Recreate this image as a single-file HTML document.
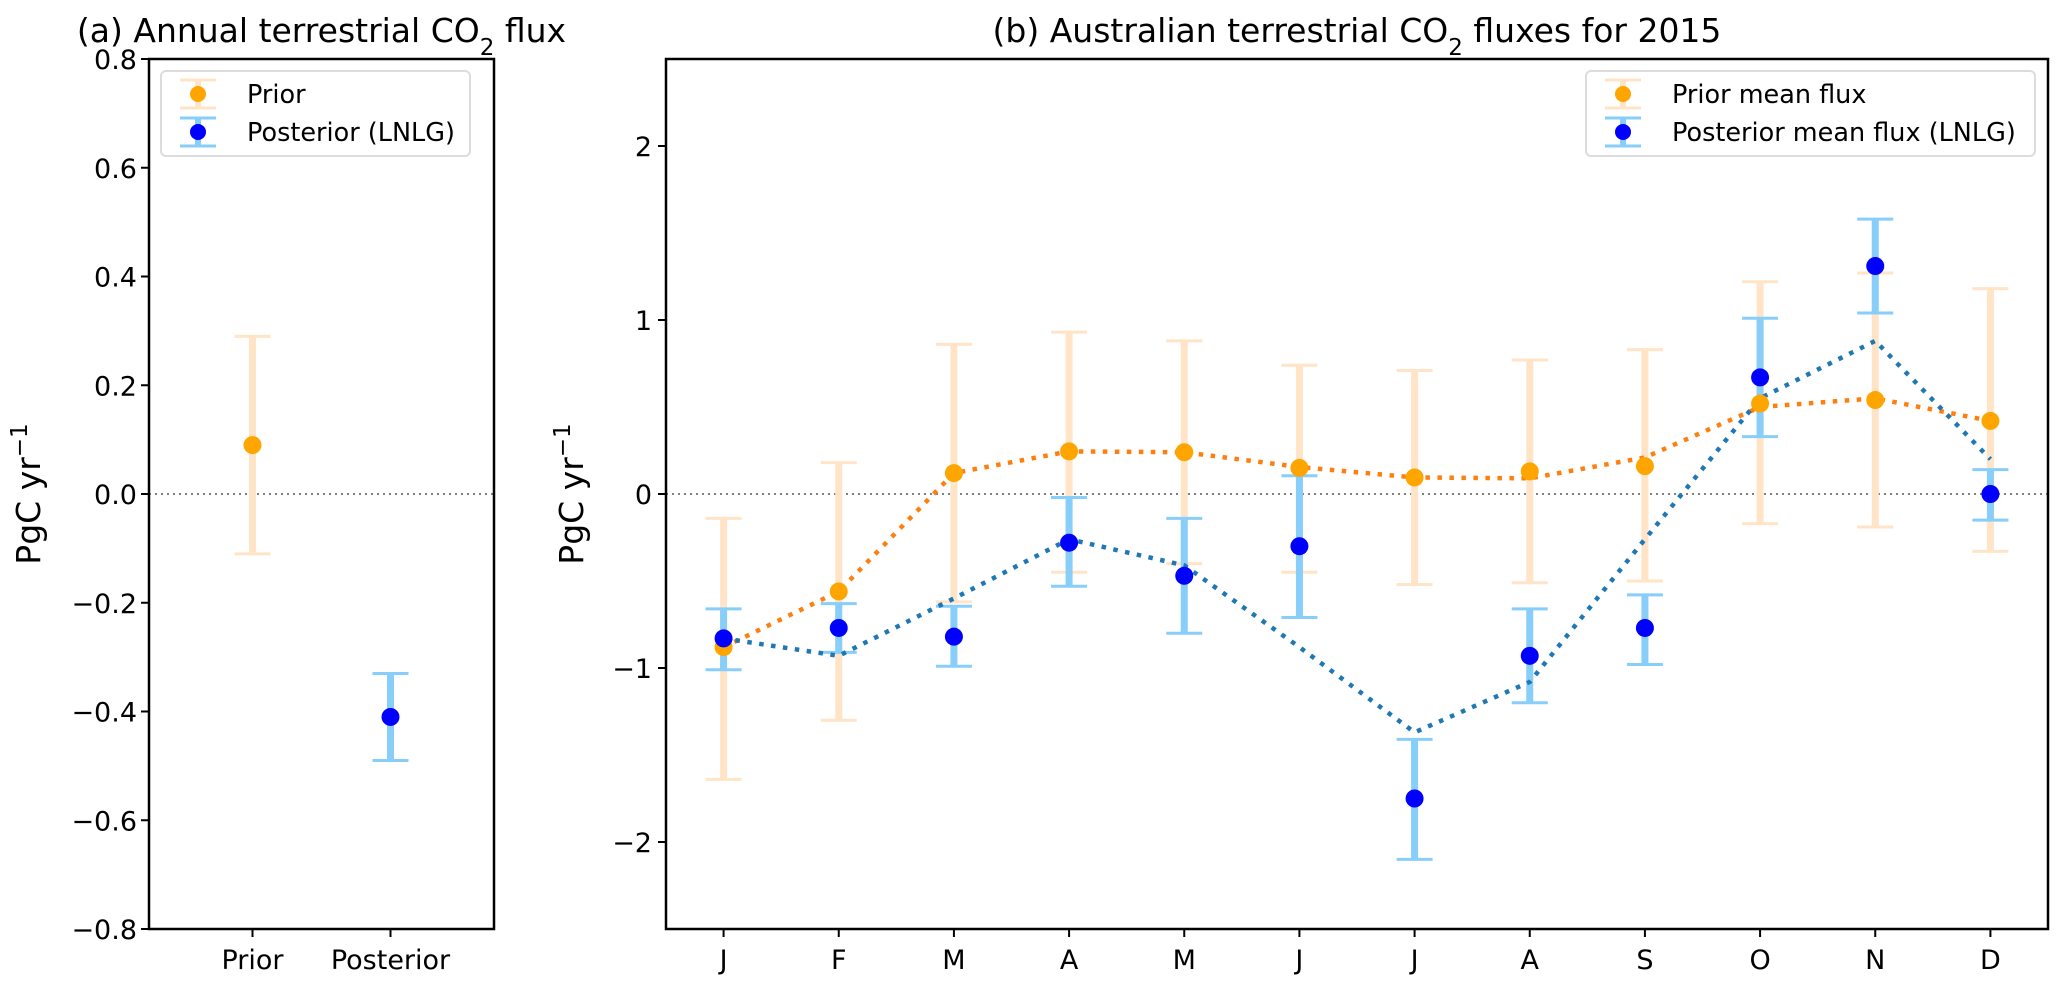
<!DOCTYPE html>
<html><head><meta charset="utf-8"><style>
html,body{margin:0;padding:0;background:#fff;}
svg{display:block;font-family:"DejaVu Sans","Liberation Sans",sans-serif;}
</style></head><body>
<svg id="chart" width="2067" height="990" viewBox="0 0 2067 990" xmlns="http://www.w3.org/2000/svg">
<rect width="2067" height="990" fill="#fff"/>
<g id="pa"></g>
<g id="pb"></g>
</svg>
<script>
// Panel (a) data
const aCategories = ["Prior", "Posterior"];
const aMeans = [0.09, -0.41];
const aUpper = [0.29, -0.33];
const aLower = [-0.11, -0.49];
const aTicks = [0.8, 0.6, 0.4, 0.2, 0.0, -0.2, -0.4, -0.6, -0.8];
const aTickLabels = ["0.8","0.6","0.4","0.2","0.0","\u22120.2","\u22120.4","\u22120.6","\u22120.8"];

// Panel (b) data
const months = ["J","F","M","A","M","J","J","A","S","O","N","D"];
const priorMean = [-0.88,-0.56,0.12,0.245,0.24,0.15,0.095,0.13,0.16,0.52,0.54,0.42];
const priorUpper = [-0.14,0.18,0.86,0.93,0.88,0.74,0.71,0.77,0.83,1.22,1.27,1.18];
const priorLower = [-1.64,-1.30,-0.62,-0.45,-0.40,-0.45,-0.52,-0.51,-0.50,-0.17,-0.19,-0.33];
const postMean = [-0.83,-0.77,-0.82,-0.28,-0.47,-0.30,-1.75,-0.93,-0.77,0.67,1.31,0.0];
const postUpper = [-0.66,-0.63,-0.645,-0.02,-0.14,0.105,-1.41,-0.66,-0.58,1.01,1.58,0.14];
const postLower = [-1.01,-0.91,-0.99,-0.53,-0.80,-0.71,-2.10,-1.20,-0.98,0.33,1.04,-0.15];
const priorLine = [-0.88,-0.56,0.12,0.245,0.24,0.155,0.095,0.09,0.21,0.50,0.55,0.42];
const postLine = [-0.83,-0.93,-0.60,-0.26,-0.41,-0.88,-1.37,-1.08,-0.26,0.55,0.88,0.20];
const bTicks = [2,1,0,-1,-2];
const bTickLabels = ["2","1","0","\u22121","\u22122"];

const NS = "http://www.w3.org/2000/svg";
function mk(parent, tag, attrs, text){
  const e = document.createElementNS(NS, tag);
  for (const k in attrs) e.setAttribute(k, attrs[k]);
  if (text !== undefined) e.textContent = text;
  parent.appendChild(e);
  return e;
}
const TOP = 59, BOT = 929;
const PRIOR_BAR = "#ffe4c7", POST_BAR = "#87cefa";
const FS = 27;

function errbar(g, x, yu, yl, color, name){
  const grp = mk(g, "g", {});
  
  
  mk(grp, "line", {x1:x, x2:x, y1:yu, y2:yl, stroke:color, "stroke-width":7});
  mk(grp, "line", {x1:x-18, x2:x+18, y1:yu, y2:yu, stroke:color, "stroke-width":3});
  mk(grp, "line", {x1:x-18, x2:x+18, y1:yl, y2:yl, stroke:color, "stroke-width":3});
}
function dot(g, x, y, color, name){
  const c = mk(g, "circle", {cx:x, cy:y, r:9, fill:color});
  
  
}
function legend(g, x0, y0, w, labels){
  const box = mk(g, "rect", {x:x0, y:y0, width:w, height:85, rx:5, fill:"#fff", stroke:"#d9d9d9", "stroke-width":2, opacity:0.9});
  
  
  const cols = [[PRIOR_BAR,"#ffa500"],[POST_BAR,"#0000ff"]];
  labels.forEach((lab, i) => {
    const cy = y0 + 23 + i*38, cx = x0 + 37;
    mk(g, "line", {x1:cx, x2:cx, y1:cy-14, y2:cy+14, stroke:cols[i][0], "stroke-width":6});
    mk(g, "line", {x1:cx-18, x2:cx+18, y1:cy-14, y2:cy-14, stroke:cols[i][0], "stroke-width":3});
    mk(g, "line", {x1:cx-18, x2:cx+18, y1:cy+14, y2:cy+14, stroke:cols[i][0], "stroke-width":3});
    mk(g, "circle", {cx:cx, cy:cy, r:8, fill:cols[i][1]});
    const t = mk(g, "text", {x:x0+86, y:cy+9, "font-size":25.5, fill:"#000"}, lab);
    
    
  });
}
function ylabel(g, x, y){
  const t = mk(g, "text", {x:0, y:0, "font-size":33, "text-anchor":"middle", transform:`translate(${x},${y}) rotate(-90)`});
  
  
  t.textContent = "PgC yr";
  mk(t, "tspan", {"baseline-shift":"super", "font-size":23}, "\u22121");
}
function title(g, x, text1, text2){
  const t = mk(g, "text", {x:x, y:42, "font-size":33, "text-anchor":"middle"});
  
  
  mk(t, "tspan", {}, text1);
  mk(t, "tspan", {"baseline-shift":"sub", "font-size":23}, "2");
  mk(t, "tspan", {dy:0}, text2);
}

// ---------- Panel A ----------
(function(){
  const g = document.getElementById("pa");
  const L = 149, R = 494;
  const x = i => L + (i + 0.75) / 2.5 * (R - L);
  const y = v => TOP + (0.8 - v) / 1.6 * (BOT - TOP);
  title(g, (L+R)/2, "(a) Annual terrestrial CO", " flux");
  const z = mk(g, "line", {x1:L, x2:R, y1:y(0), y2:y(0), stroke:"#808080", "stroke-width":2, "stroke-dasharray":"2,4"});
  
  
  const colsBar = [PRIOR_BAR, POST_BAR], colsDot = ["#ffa500", "#0000ff"];
  aCategories.forEach((c, i) => {
    errbar(g, x(i), y(aUpper[i]), y(aLower[i]), colsBar[i], "errorbar-" + c.toLowerCase());
    dot(g, x(i), y(aMeans[i]), colsDot[i], "point-" + c.toLowerCase());
    mk(g, "line", {x1:x(i), x2:x(i), y1:BOT, y2:BOT+8, stroke:"#000", "stroke-width":2});
    const t = mk(g, "text", {x:x(i), y:BOT+40, "font-size":FS, "text-anchor":"middle"}, c);
    
    
  });
  aTicks.forEach((v, i) => {
    mk(g, "line", {x1:L-8, x2:L, y1:y(v), y2:y(v), stroke:"#000", "stroke-width":2});
    const t = mk(g, "text", {x:L-12, y:y(v)+10, "font-size":FS, "text-anchor":"end"}, aTickLabels[i]);
    
    
  });
  const fr = mk(g, "rect", {x:L, y:TOP, width:R-L, height:BOT-TOP, fill:"none", stroke:"#000", "stroke-width":2.5});
  
  
  legend(g, 161, 71, 309, ["Prior", "Posterior (LNLG)"]);
  ylabel(g, 40, 494);
})();

// ---------- Panel B ----------
(function(){
  const g = document.getElementById("pb");
  const L = 666, R = 2048;
  const x = i => L + (i + 0.5) / 12 * (R - L);
  const y = v => TOP + (2.5 - v) / 5 * (BOT - TOP);
  title(g, (L+R)/2, "(b) Australian terrestrial CO", " fluxes for 2015");
  const z = mk(g, "line", {x1:L, x2:R, y1:y(0), y2:y(0), stroke:"#808080", "stroke-width":2, "stroke-dasharray":"2,4"});
  
  
  months.forEach((m, i) => {
    errbar(g, x(i), y(priorUpper[i]), y(priorLower[i]), PRIOR_BAR, "prior-errorbar");
  });
  months.forEach((m, i) => {
    errbar(g, x(i), y(postUpper[i]), y(postLower[i]), POST_BAR, "posterior-errorbar");
  });
  const pl = mk(g, "polyline", {points: priorLine.map((v,i)=>x(i)+","+y(v)).join(" "), fill:"none", stroke:"#ff7f0e", "stroke-width":4.5, "stroke-dasharray":"4.5,7.5"});
  
  
  const ql = mk(g, "polyline", {points: postLine.map((v,i)=>x(i)+","+y(v)).join(" "), fill:"none", stroke:"#1f77b4", "stroke-width":4.5, "stroke-dasharray":"4.5,7.5"});
  
  
  months.forEach((m, i) => {
    dot(g, x(i), y(priorMean[i]), "#ffa500", "prior-point");
    dot(g, x(i), y(postMean[i]), "#0000ff", "posterior-point");
    mk(g, "line", {x1:x(i), x2:x(i), y1:BOT, y2:BOT+8, stroke:"#000", "stroke-width":2});
    const t = mk(g, "text", {x:x(i), y:BOT+40, "font-size":FS, "text-anchor":"middle"}, m);
    
    
  });
  bTicks.forEach((v, i) => {
    mk(g, "line", {x1:L-8, x2:L, y1:y(v), y2:y(v), stroke:"#000", "stroke-width":2});
    const t = mk(g, "text", {x:L-14, y:y(v)+10, "font-size":FS, "text-anchor":"end"}, bTickLabels[i]);
    
    
  });
  const fr = mk(g, "rect", {x:L, y:TOP, width:R-L, height:BOT-TOP, fill:"none", stroke:"#000", "stroke-width":2.5});
  
  
  legend(g, 1586, 71, 449, ["Prior mean flux", "Posterior mean flux (LNLG)"]);
  ylabel(g, 583, 494);
})();
</script>
</body></html>
